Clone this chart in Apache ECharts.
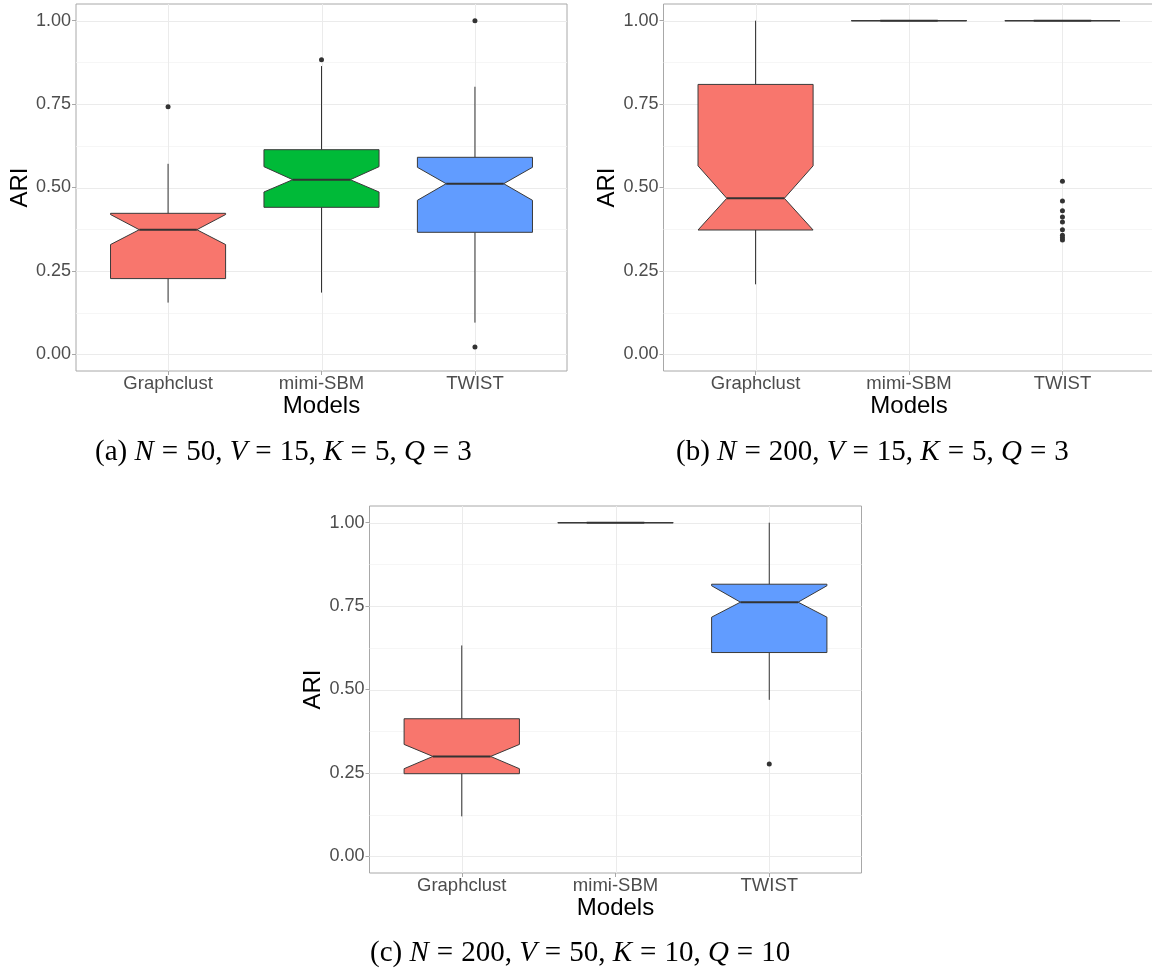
<!DOCTYPE html>
<html><head><meta charset="utf-8">
<script src="https://cdn.jsdelivr.net/npm/echarts@6/dist/echarts.min.js"></script>
<style>html,body{margin:0;padding:0;background:#fff}#c{width:1152px;height:968px}</style>
</head><body><div id="c"></div>
<script>
// ---------------- data ----------------
const categories = ['Graphclust', 'mimi-SBM', 'TWIST'];
const fillColors = ['#F8766D', '#00BA38', '#619CFF'];
const yTicks = [0, 0.25, 0.5, 0.75, 1];
const yMinor = [0.125, 0.375, 0.625, 0.875];
// columns: lower whisker, Q1, notch low, median, notch high, Q3, upper whisker
const boxA = [
  [0.155, 0.227, 0.329, 0.3735, 0.419, 0.4226, 0.571],
  [0.185, 0.4406, 0.4865, 0.5234, 0.5624, 0.6133, 0.864],
  [0.095, 0.3657, 0.4616, 0.5114, 0.5605, 0.5905, 0.802]
];
const outA = [['Graphclust', 0.742], ['mimi-SBM', 0.883], ['TWIST', 1.0], ['TWIST', 0.022]];
const boxB = [
  [0.2098, 0.3726, 0.3726, 0.4676, 0.565, 0.809, 1.0],
  [1, 1, 1, 1, 1, 1, 1],
  [1, 1, 1, 1, 1, 1, 1]
];
const outB = [['TWIST', 0.5186], ['TWIST', 0.4595], ['TWIST', 0.4305], ['TWIST', 0.4116], ['TWIST', 0.3966],
              ['TWIST', 0.3735], ['TWIST', 0.3567], ['TWIST', 0.3495], ['TWIST', 0.3426]];
const boxC = [
  [0.1198, 0.2476, 0.2626, 0.2994, 0.3354, 0.4123, 0.632],
  [1, 1, 1, 1, 1, 1, 1],
  [0.469, 0.6108, 0.7168, 0.7617, 0.811, 0.8156, 1.0]
];
const outC = [['TWIST', 0.2766]];
const captions = [
  [['r', '(a) '], ['i', 'N'], ['e', '='], ['r', '50, '], ['i', 'V'], ['e', '='], ['r', '15, '], ['i', 'K'], ['e', '='], ['r', '5, '], ['i', 'Q'], ['e', '='], ['r', '3']],
  [['r', '(b) '], ['i', 'N'], ['e', '='], ['r', '200, '], ['i', 'V'], ['e', '='], ['r', '15, '], ['i', 'K'], ['e', '='], ['r', '5, '], ['i', 'Q'], ['e', '='], ['r', '3']],
  [['r', '(c) '], ['i', 'N'], ['e', '='], ['r', '200, '], ['i', 'V'], ['e', '='], ['r', '50, '], ['i', 'K'], ['e', '='], ['r', '10, '], ['i', 'Q'], ['e', '='], ['r', '10']]
];
const xName = 'Models';
const yName = 'ARI';

// ---------------- layout ----------------
const panels = [
  {left: 76, top: 4, width: 491, height: 367, box: boxA, out: outA, cap: {x: 95, y: 452}},
  {left: 663.5, top: 4, width: 491, height: 367, box: boxB, out: outB, cap: {x: 676, y: 452}},
  {left: 369.5, top: 506, width: 492, height: 367, box: boxC, out: outC, cap: {x: 370, y: 953}}
];
const FONT = "'Liberation Sans', Arial, sans-serif";
const SERIF = "'Liberation Serif', 'DejaVu Serif', serif";
const CAP_SIZE = 29;

function renderGrid(params, api) {
  const o = api.value(0), v = api.value(1), major = api.value(2);
  const cs = params.coordSys;
  let shape;
  if (o === 0) {
    const y = Math.round(api.coord([1, v])[1]) + 0.5;
    shape = {x1: cs.x, y1: y, x2: cs.x + cs.width, y2: y};
  } else {
    const x = Math.round(api.coord([v, 0])[0]) + 0.5;
    shape = {x1: x, y1: cs.y, x2: x, y2: cs.y + cs.height};
  }
  return {type: 'line', shape, silent: true,
    style: {stroke: major ? '#ebebeb' : '#f4f4f4', lineWidth: major ? 1 : 0.8}};
}

function renderBox(params, api) {
  const x = api.value(0);
  const Y = i => api.coord([x, api.value(i)])[1];
  const cx = api.coord([x, 0])[0];
  const half = api.size([0.75, 0])[0] / 2;
  const nh = half / 2;
  const yLW = Y(1), yQ1 = Y(2), yNL = Y(3), yMed = Y(4), yNH = Y(5), yQ3 = Y(6), yUW = Y(7);
  const pts = [[cx - half, yQ3], [cx - half, yNH], [cx - nh, yMed], [cx - half, yNL], [cx - half, yQ1],
               [cx + half, yQ1], [cx + half, yNL], [cx + nh, yMed], [cx + half, yNH], [cx + half, yQ3]];
  const color = api.visual('color');
  return {type: 'group', children: [
    {type: 'line', shape: {x1: cx, y1: yUW, x2: cx, y2: yQ3}, style: {stroke: '#333', lineWidth: 1}},
    {type: 'line', shape: {x1: cx, y1: yQ1, x2: cx, y2: yLW}, style: {stroke: '#333', lineWidth: 1}},
    {type: 'polygon', shape: {points: pts}, style: {fill: color, stroke: '#3a3a3a', lineWidth: 1, lineJoin: 'miter'}},
    {type: 'line', shape: {x1: cx - nh, y1: yMed, x2: cx + nh, y2: yMed}, style: {stroke: '#333', lineWidth: 2}}
  ]};
}

const grids = [], xAxes = [], yAxes = [], series = [], graphics = [];
const catPos = categories.map((c, i) => i + 1);
panels.forEach((p, i) => {
  grids.push({left: p.left, top: p.top, width: p.width, height: p.height, show: true,
    borderColor: '#a8a8a8', borderWidth: 1, backgroundColor: 'transparent', outerBoundsMode: 'none'});
  xAxes.push({gridIndex: i, type: 'value', min: 0.4, max: 3.6,
    axisLine: {show: false, onZero: false}, splitLine: {show: false},
    axisTick: {show: true, customValues: catPos, length: 4, lineStyle: {color: '#a8a8a8'}},
    axisLabel: {customValues: catPos, formatter: v => categories[Math.round(v) - 1] || '',
      fontSize: 18.5, color: '#4d4d4d', margin: 3, fontFamily: FONT},
    name: xName, nameLocation: 'middle', nameGap: 21,
    nameTextStyle: {fontSize: 24, color: '#000', fontFamily: FONT}});
  yAxes.push({gridIndex: i, type: 'value', min: -0.05, max: 1.05,
    axisLine: {show: false, onZero: false}, splitLine: {show: false},
    axisTick: {show: true, customValues: yTicks, length: 4, lineStyle: {color: '#a8a8a8'}},
    axisLabel: {customValues: yTicks, formatter: v => v.toFixed(2),
      fontSize: 18, color: '#4d4d4d', margin: 5, fontFamily: FONT},
    name: yName, nameLocation: 'middle', nameGap: 43, nameRotate: 90,
    nameTextStyle: {fontSize: 24, color: '#000', fontFamily: FONT}});
  const gridData = [
    ...yMinor.map(v => [0, v, 0]),
    ...yTicks.map(v => [0, v, 1]),
    ...catPos.map(v => [1, v, 1])
  ];
  series.push({type: 'custom', xAxisIndex: i, yAxisIndex: i, z: 1, silent: true,
    renderItem: renderGrid, data: gridData, encode: {x: 1, y: 1}});
  series.push({type: 'custom', xAxisIndex: i, yAxisIndex: i, z: 3, silent: true,
    renderItem: renderBox, encode: {x: 0, y: [1, 2, 3, 4, 5, 6, 7]},
    data: p.box.map((row, k) => ({value: [catPos[k], ...row], itemStyle: {color: fillColors[k]}}))});
  series.push({type: 'scatter', xAxisIndex: i, yAxisIndex: i, z: 4, silent: true,
    symbolSize: 5, itemStyle: {color: '#333', opacity: 1},
    data: p.out.map(o => [categories.indexOf(o[0]) + 1, o[1]])});
  const txt = captions[i].map(s => '{' + s[0] + '|' + s[1] + '}').join('');
  graphics.push({type: 'text', x: p.cap.x, y: p.cap.y, silent: true,
    style: {text: txt, verticalAlign: 'middle', align: 'left',
      rich: {r: {fontFamily: SERIF, fontSize: CAP_SIZE, fill: '#000'},
             e: {fontFamily: SERIF, fontSize: CAP_SIZE, fill: '#000', padding: [0, 8, 0, 8]},
             i: {fontFamily: SERIF, fontSize: CAP_SIZE, fontStyle: 'italic', fill: '#000'}}}});
});

const chart = echarts.init(document.getElementById('c'), null, {renderer: 'canvas'});
chart.setOption({
  animation: false,
  backgroundColor: '#fff',
  grid: grids, xAxis: xAxes, yAxis: yAxes, series, graphic: graphics
});
</script></body></html>
